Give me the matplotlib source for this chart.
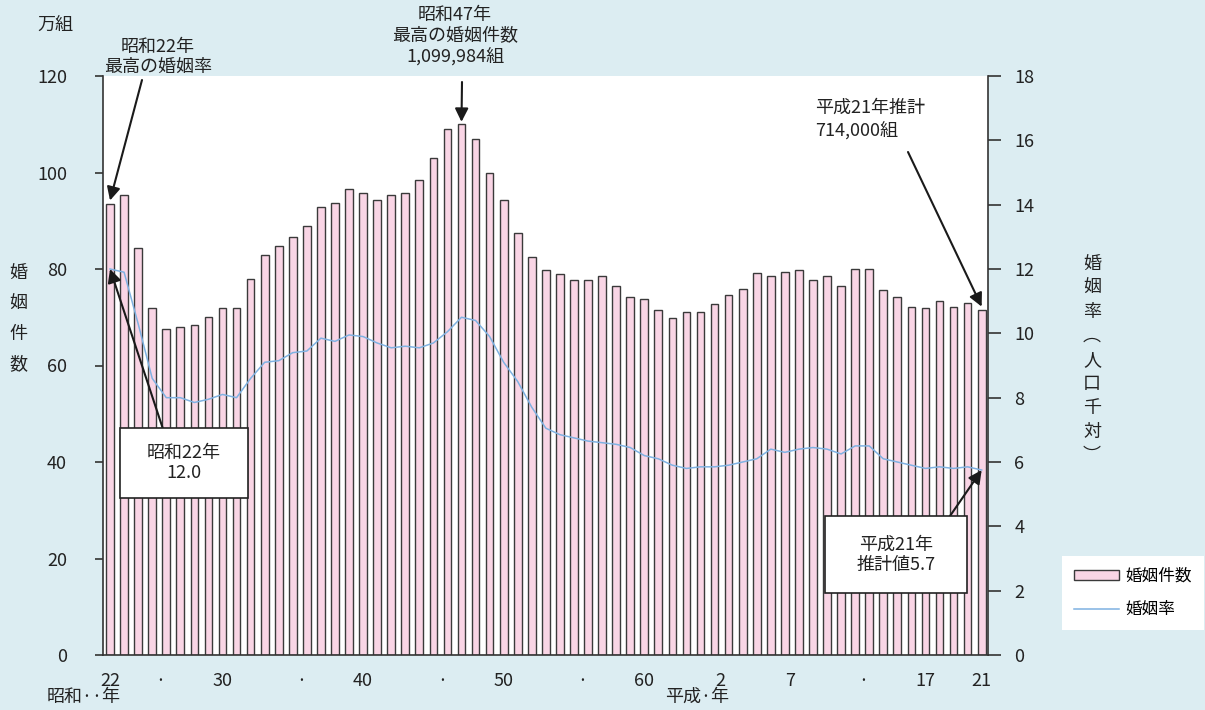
import numpy as np
import matplotlib
matplotlib.use("Agg")
import matplotlib.pyplot as plt
from matplotlib.patches import Rectangle

plt.rcParams['font.family'] = ['Noto Sans CJK JP', 'DejaVu Sans']

# 昭和22年(1947) - 平成21年(2009)
years = np.arange(1947, 2010)
# 婚姻件数 (万組)
count = [93.4, 95.3, 84.3, 71.9, 67.6, 68.0, 68.3, 70.0, 71.9, 71.9,
         77.9, 82.8, 84.8, 86.7, 89.0, 92.9, 93.7, 96.5, 95.7, 94.2,
         95.3, 95.7, 98.4, 103.1, 109.0, 110.0, 107.0, 100.0, 94.2, 87.5,
         82.4, 79.7, 78.9, 77.7, 77.7, 78.5, 76.5, 74.2, 73.8, 71.4,
         69.8, 71.1, 71.1, 72.7, 74.6, 75.8, 79.2, 78.5, 79.3, 79.7,
         77.7, 78.5, 76.5, 80.1, 80.1, 75.7, 74.1, 72.2, 71.9, 73.4,
         72.2, 73.0, 71.4]
# 婚姻率 (人口千対)
rate = [12.0, 11.9, 10.3, 8.6, 8.0, 8.0, 7.85, 7.95, 8.1, 8.0,
        8.6, 9.1, 9.15, 9.4, 9.45, 9.85, 9.75, 9.95, 9.9, 9.7,
        9.55, 9.6, 9.55, 9.7, 10.05, 10.5, 10.4, 9.9, 9.1, 8.5,
        7.7, 7.05, 6.85, 6.75, 6.65, 6.6, 6.55, 6.45, 6.2, 6.1,
        5.9, 5.8, 5.85, 5.85, 5.9, 6.0, 6.1, 6.4, 6.3, 6.4,
        6.45, 6.4, 6.25, 6.5, 6.5, 6.1, 6.0, 5.9, 5.8, 5.85,
        5.8, 5.85, 5.75]

tick_years = [1947, 1950.6, 1955, 1960.6, 1965, 1970.6, 1975, 1980.6,
              1985, 1990.4, 1995.4, 2000.6, 2005, 2009]
tick_labels = ['22', '·', '30', '·', '40', '·', '50', '·', '60',
               '2', '7', '·', '17', '21']

bg = '#dcedf2'
pink = '#f9d5e5'
blue = '#7fb2e2'
ink = '#222222'
W, H = 1205, 710

def fp(x, y):  # pixels from top-left -> figure pixels
    return (x, H - y)

fig = plt.figure(figsize=(W / 100, H / 100), dpi=100, facecolor=bg)
ax = fig.add_axes([103 / W, 1 - 655 / H, (988 - 103) / W, (655 - 76) / H])
ax.set_facecolor('white')
x = years - years[0]
bars = ax.bar(x, count, width=0.55, color=pink, edgecolor='#3a3a3a',
              linewidth=1.0, label='婚姻件数')
ax.set_xlim(-0.5, len(years) - 0.55)
ax.set_ylim(0, 120)
ax.set_yticks(range(0, 121, 20))
ax.tick_params(axis='y', direction='out', length=6, width=1.2,
               color='#333333', labelsize=13, pad=20, labelcolor=ink)
ax.set_xticks([t - years[0] for t in tick_years], tick_labels)
ax.tick_params(axis='x', length=0, labelsize=13, pad=12, labelcolor=ink)
ax.spines['top'].set_visible(False)
ax.spines['right'].set_visible(False)
for s in ['left', 'bottom']:
    ax.spines[s].set_color('#333333')
    ax.spines[s].set_linewidth(1.2)

ax2 = ax.twinx()
ln, = ax2.plot(x, rate, color=blue, lw=1.1, label='婚姻率')
ax2.set_ylim(0, 18)
ax2.set_yticks(range(0, 19, 2))
ax2.tick_params(axis='y', direction='out', length=9, width=1.2,
                color='#333333', labelsize=13, pad=10, labelcolor=ink)
for s in ['top', 'left', 'bottom']:
    ax2.spines[s].set_visible(False)
ax2.spines['right'].set_color('#333333')
ax2.spines['right'].set_linewidth(1.2)

# axis captions
fig.text(55 / W, 1 - 25 / H, '万組', fontsize=13, ha='center', va='center', color=ink)
fig.text(18 / W, 1 - 319 / H, '\n'.join('婚姻件数'), fontsize=13, ha='center',
         va='center', linespacing=1.85, color=ink)
fig.text(1092 / W, 1 - 360 / H, '\n'.join('婚姻率︵人口千対︶'), fontsize=13,
         ha='center', va='center', linespacing=1.42, color=ink)
fig.text(84 / W, 1 - 697 / H, '昭和··年', fontsize=13, ha='center', va='center', color=ink)
fig.text(697 / W, 1 - 697 / H, '平成·年', fontsize=13, ha='center', va='center', color=ink)

arrow = dict(arrowstyle='-|>', color='#1a1a1a', lw=1.5, mutation_scale=20,
             shrinkA=0, shrinkB=0)

# annotations with arrows
fig.text(158 / W, 1 - 57 / H, '昭和22年\n最高の婚姻率', fontsize=13, ha='center',
         va='center', linespacing=1.15, color=ink)
ax.annotate('', xy=(0, count[0] + 0.8), xytext=fp(142, 80),
            textcoords='figure pixels', arrowprops=arrow, annotation_clip=False)

fig.text(455 / W, 1 - 36 / H, '昭和47年\n最高の婚姻件数\n1,099,984組', fontsize=13,
         ha='center', va='center', linespacing=1.2, color=ink)
ax.annotate('', xy=(25, count[25] + 0.5), xytext=fp(462, 82),
            textcoords='figure pixels', arrowprops=arrow, annotation_clip=False)

fig.text(815 / W, 1 - 119 / H, '平成21年推計\n714,000組', fontsize=13, ha='left',
         va='center', linespacing=1.3, color=ink, zorder=5)
ax.annotate('', xy=(62, count[62] + 0.8), xytext=fp(908, 152),
            textcoords='figure pixels', arrowprops=arrow, annotation_clip=False)

# boxed annotations
fig.add_artist(Rectangle((120 / W, 1 - 498 / H), 128 / W, 70 / H, transform=fig.transFigure,
                         facecolor='white', edgecolor=ink, lw=1.2, zorder=4))
fig.text(184 / W, 1 - 463 / H, '昭和22年\n12.0', fontsize=13, ha='center', va='center',
         linespacing=1.2, color=ink, zorder=5)
ax2.annotate('', xy=(0, rate[0]), xytext=fp(163, 429), textcoords='figure pixels',
             arrowprops=arrow, annotation_clip=False)

fig.add_artist(Rectangle((825 / W, 1 - 593 / H), 142 / W, 77 / H, transform=fig.transFigure,
                         facecolor='white', edgecolor=ink, lw=1.2, zorder=4))
fig.text(896 / W, 1 - 555 / H, '平成21年\n推計値5.7', fontsize=13, ha='center', va='center',
         linespacing=1.2, color=ink, zorder=5)
ax2.annotate('', xy=(62, rate[62]), xytext=fp(950, 516), textcoords='figure pixels',
             arrowprops=arrow, annotation_clip=False)

# legend
leg = fig.legend([bars, ln], ['婚姻件数', '婚姻率'], loc='upper left',
                 bbox_to_anchor=(1062 / W, 1 - 556 / H), fontsize=12, frameon=True,
                 fancybox=False, edgecolor='white', facecolor='white', framealpha=1,
                 handlelength=2.7, handleheight=0.5, labelspacing=1.0,
                 borderpad=0.7, handletextpad=0.4, borderaxespad=0)
leg.get_frame().set_linewidth(0)

fig.savefig('out.png', dpi=100, facecolor=bg)
